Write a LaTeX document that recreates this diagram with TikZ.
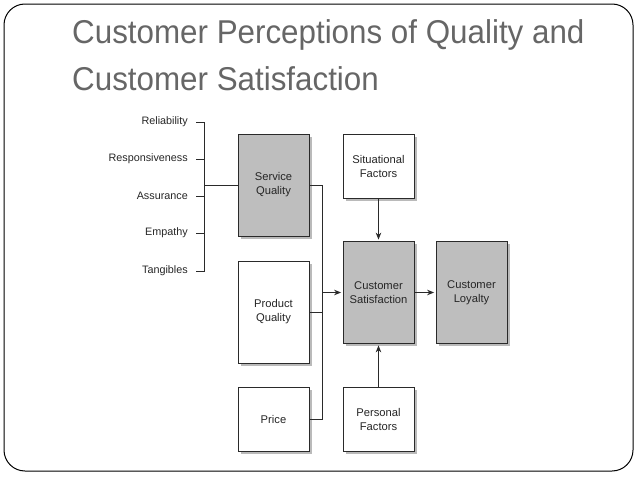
\documentclass[tikz,border=0pt]{standalone}
\usepackage{fontspec}
\setmainfont{Liberation Sans}
\newfontfamily\titlefont[FakeStretch=0.95]{Liberation Sans}
\usetikzlibrary{arrows.meta,shadows}
\definecolor{titlegray}{HTML}{666666}
\definecolor{boxgray}{HTML}{BEBEBE}
\definecolor{linegray}{HTML}{2A2A2A}
\tikzset{
  box/.style={draw=linegray, line width=0.8pt, fill=white, align=center, font=\fontsize{11.2}{14}\selectfont, text=black!85,
    drop shadow={shadow xshift=2.5pt, shadow yshift=-2.5pt, fill=black!45, opacity=0.6}},
  tallbox/.style={box, minimum width=71pt, minimum height=102pt},
  shortbox/.style={box, minimum width=71pt, minimum height=64pt},
  grayfill/.style={fill=boxgray},
  dim/.style={anchor=east, inner sep=0pt, font=\fontsize{10.8}{13}\selectfont, text=black!85},
  conn/.style={draw=linegray, line width=0.8pt},
  arr/.style={conn, -{Stealth[length=7pt,width=5.5pt]}, shorten >=1.5pt},
  ttl/.style={anchor=base west, inner sep=0pt, text=titlegray, font=\titlefont\fontsize{33}{36}\selectfont}
}
\begin{document}
\begin{tikzpicture}[x=1pt,y=-1pt]
\useasboundingbox (0,0) rectangle (638,479);
\draw[black, line width=1pt, rounded corners=21pt] (4,4) rectangle (633,471);
\node[ttl] (t1) at (72,43) {Customer Perceptions of Quality and};
\node[ttl] (t2) at (72,90) {Customer Satisfaction};

\node[tallbox, grayfill] (sq) at (273.5,185) {Service\\Quality};
\node[tallbox] (pq) at (273.5,312) {Product\\Quality};
\node[shortbox] (price) at (273.5,419) {Price};
\node[shortbox] (sit) at (378.5,166) {Situational\\Factors};
\node[tallbox, grayfill] (cs) at (378.5,292.5) {Customer\\Satisfaction};
\node[tallbox, grayfill] (cl) at (471.5,292.5) {Customer\\Loyalty};
\node[shortbox] (pf) at (378.5,419) {Personal\\Factors};

\node[dim] (rel) at (188,122) {Reliability};
\node[dim] (res) at (188,159) {Responsiveness};
\node[dim] (ass) at (188,196) {Assurance};
\node[dim] (emp) at (188,233) {Empathy};
\node[dim] (tan) at (188,271) {Tangibles};

\coordinate (btop) at (204,122);
\coordinate (bbot) at (204,271);
\coordinate (bmid) at (204,185);
\draw[conn] (rel.east) ++(8,0) -- (btop) -- (bbot) -- ++(-8,0);
\foreach \n in {res,ass,emp}{ \draw[conn] (\n.east) ++(8,0) -- (\n.east -| btop); }
\draw[conn] (bmid) -- (sq.west);

\coordinate (bus1) at (322,185);
\coordinate (bus2) at (322,419);
\draw[conn] (sq.east) -- (bus1) -- (bus2) -- (price.east);
\draw[conn] (pq.east) -- (pq.east -| bus1);
\draw[arr] (cs.west -| bus1) -- (cs.west);
\draw[arr] (sit.south) -- (cs.north);
\draw[arr] (pf.north) -- (cs.south);
\draw[arr] (cs.east) -- (cl.west);
\end{tikzpicture}
\end{document}
